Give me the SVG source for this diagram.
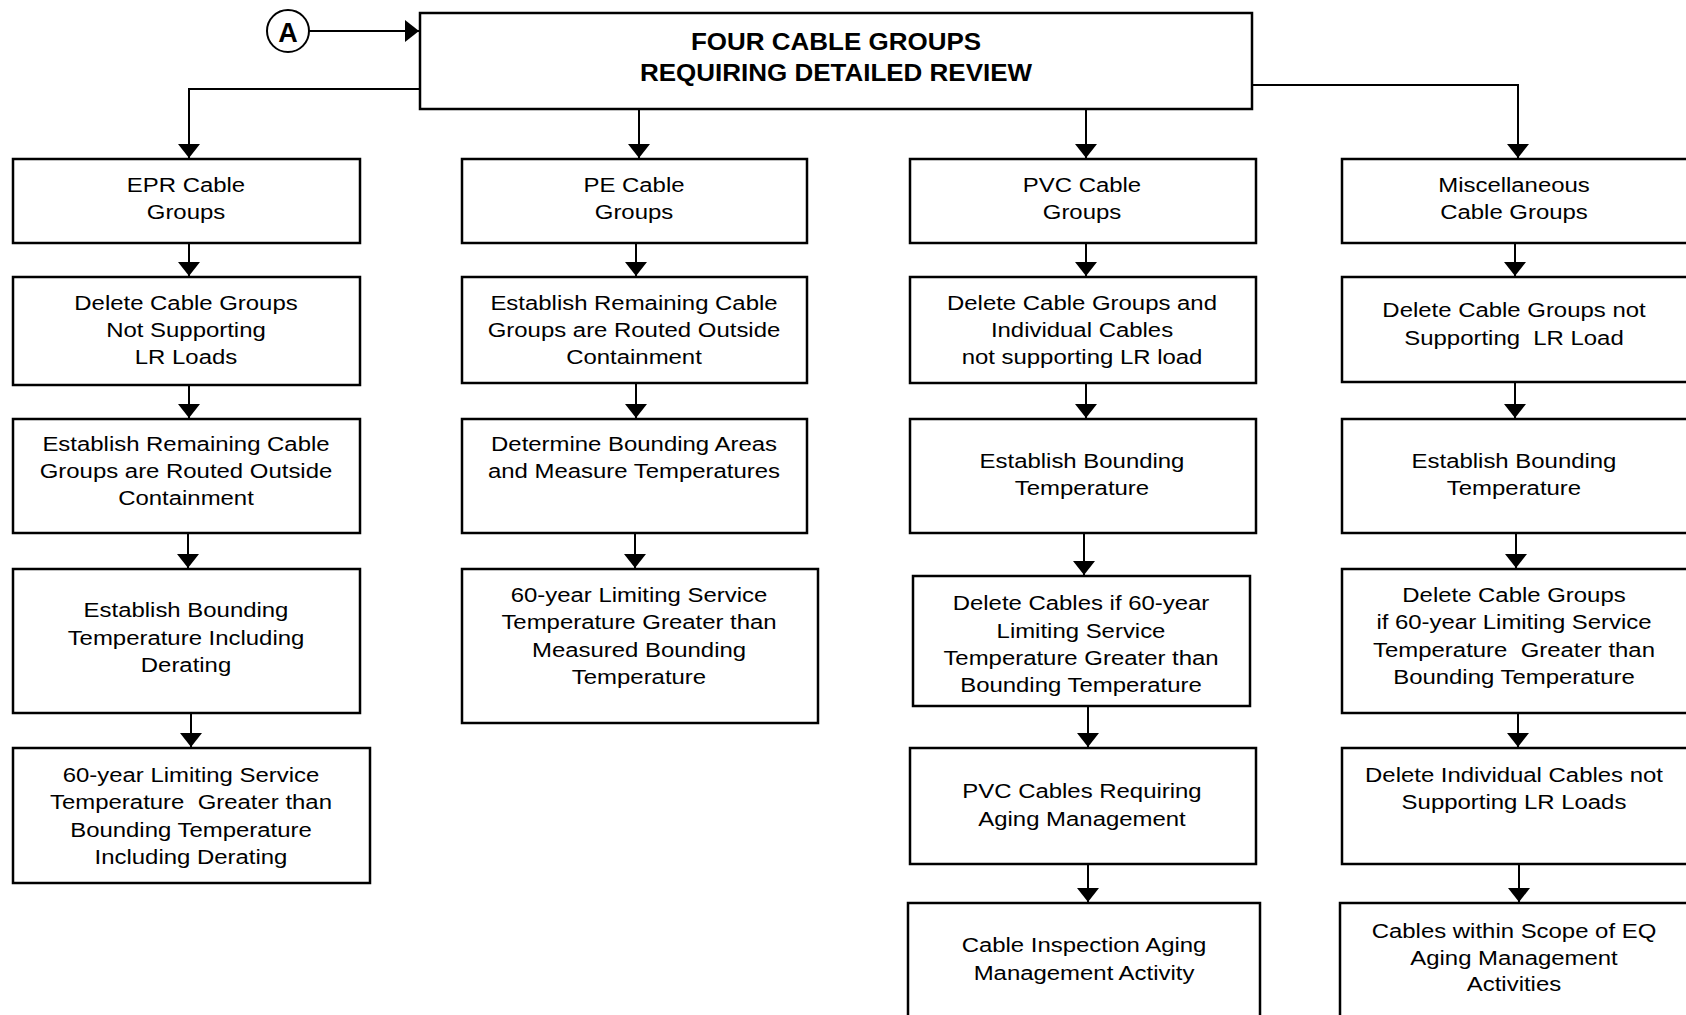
<svg xmlns="http://www.w3.org/2000/svg" width="1686" height="1015" viewBox="0 0 1686 1015">
<style>
  .box { fill: #fff; stroke: #000; stroke-width: 2.5; }
  .ln { fill: none; stroke: #000; stroke-width: 2; }
  .t { font-family: "Liberation Sans", Arial, Helvetica, sans-serif; font-size: 21px; fill: #000; text-anchor: middle; white-space: pre; }
  .tb { font-family: "Liberation Sans", Arial, Helvetica, sans-serif; font-size: 23px; font-weight: bold; fill: #000; text-anchor: middle; }
  .ta { font-family: "Liberation Sans", Arial, Helvetica, sans-serif; font-size: 27px; font-weight: bold; fill: #000; text-anchor: middle; }
</style>
<defs>
  <marker id="ah" viewBox="0 0 14 22" refX="14" refY="11" markerWidth="14" markerHeight="22" markerUnits="userSpaceOnUse" orient="auto">
    <path d="M0,0 L14,11 L0,22 Z" fill="#000"/>
  </marker>
</defs>
<rect width="1686" height="1015" fill="#fff"/>

<g id="connectors">
  <line class="ln" x1="309" y1="31" x2="419" y2="31" marker-end="url(#ah)"/>
  <polyline class="ln" points="420,89 189,89 189,158" marker-end="url(#ah)"/>
  <line class="ln" x1="639" y1="109" x2="639" y2="158" marker-end="url(#ah)"/>
  <line class="ln" x1="1086" y1="109" x2="1086" y2="158" marker-end="url(#ah)"/>
  <polyline class="ln" points="1252,85 1518,85 1518,158" marker-end="url(#ah)"/>

  <line class="ln" x1="189" y1="243" x2="189" y2="276" marker-end="url(#ah)"/>
  <line class="ln" x1="189" y1="385" x2="189" y2="418" marker-end="url(#ah)"/>
  <line class="ln" x1="188" y1="533" x2="188" y2="568" marker-end="url(#ah)"/>
  <line class="ln" x1="191" y1="713" x2="191" y2="747" marker-end="url(#ah)"/>

  <line class="ln" x1="636" y1="243" x2="636" y2="276" marker-end="url(#ah)"/>
  <line class="ln" x1="636" y1="383" x2="636" y2="418" marker-end="url(#ah)"/>
  <line class="ln" x1="635" y1="533" x2="635" y2="568" marker-end="url(#ah)"/>

  <line class="ln" x1="1086" y1="243" x2="1086" y2="276" marker-end="url(#ah)"/>
  <line class="ln" x1="1086" y1="383" x2="1086" y2="418" marker-end="url(#ah)"/>
  <line class="ln" x1="1084" y1="533" x2="1084" y2="575" marker-end="url(#ah)"/>
  <line class="ln" x1="1088" y1="706" x2="1088" y2="747" marker-end="url(#ah)"/>
  <line class="ln" x1="1088" y1="864" x2="1088" y2="902" marker-end="url(#ah)"/>

  <line class="ln" x1="1515" y1="243" x2="1515" y2="276" marker-end="url(#ah)"/>
  <line class="ln" x1="1515" y1="382" x2="1515" y2="418" marker-end="url(#ah)"/>
  <line class="ln" x1="1516" y1="533" x2="1516" y2="568" marker-end="url(#ah)"/>
  <line class="ln" x1="1518" y1="713" x2="1518" y2="747" marker-end="url(#ah)"/>
  <line class="ln" x1="1519" y1="864" x2="1519" y2="902" marker-end="url(#ah)"/>
</g>

<g id="nodeA">
  <circle cx="288" cy="31" r="21" fill="#fff" stroke="#000" stroke-width="2"/>
  <text class="ta" x="288" y="42">A</text>
</g>

<g id="top">
  <rect class="box" x="420" y="13" width="832" height="96"/>
  <text class="tb" transform="translate(836 0) scale(1.13 1)"><tspan x="0" y="50">FOUR CABLE GROUPS</tspan><tspan x="0" y="81">REQUIRING DETAILED REVIEW</tspan></text>
</g>

<g id="epr1">
  <rect class="box" x="13" y="159" width="347" height="84"/>
  <text class="t" transform="translate(186 0) scale(1.14 1)"><tspan x="0" y="192">EPR Cable</tspan><tspan x="0" y="219">Groups</tspan></text>
</g>
<g id="epr2">
  <rect class="box" x="13" y="277" width="347" height="108"/>
  <text class="t" transform="translate(186 0) scale(1.14 1)"><tspan x="0" y="310">Delete Cable Groups</tspan><tspan x="0" y="337">Not Supporting</tspan><tspan x="0" y="364">LR Loads</tspan></text>
</g>
<g id="epr3">
  <rect class="box" x="13" y="419" width="347" height="114"/>
  <text class="t" transform="translate(186 0) scale(1.14 1)"><tspan x="0" y="451">Establish Remaining Cable</tspan><tspan x="0" y="478">Groups are Routed Outside</tspan><tspan x="0" y="505">Containment</tspan></text>
</g>
<g id="epr4">
  <rect class="box" x="13" y="569" width="347" height="144"/>
  <text class="t" transform="translate(186 0) scale(1.14 1)"><tspan x="0" y="617">Establish Bounding</tspan><tspan x="0" y="645">Temperature Including</tspan><tspan x="0" y="672">Derating</tspan></text>
</g>
<g id="epr5">
  <rect class="box" x="13" y="748" width="357" height="135"/>
  <text class="t" transform="translate(191 0) scale(1.14 1)"><tspan x="0" y="782">60-year Limiting Service</tspan><tspan x="0" y="809">Temperature  Greater than</tspan><tspan x="0" y="837">Bounding Temperature</tspan><tspan x="0" y="864">Including Derating</tspan></text>
</g>

<g id="pe1">
  <rect class="box" x="462" y="159" width="345" height="84"/>
  <text class="t" transform="translate(634 0) scale(1.14 1)"><tspan x="0" y="192">PE Cable</tspan><tspan x="0" y="219">Groups</tspan></text>
</g>
<g id="pe2">
  <rect class="box" x="462" y="277" width="345" height="106"/>
  <text class="t" transform="translate(634 0) scale(1.14 1)"><tspan x="0" y="310">Establish Remaining Cable</tspan><tspan x="0" y="337">Groups are Routed Outside</tspan><tspan x="0" y="364">Containment</tspan></text>
</g>
<g id="pe3">
  <rect class="box" x="462" y="419" width="345" height="114"/>
  <text class="t" transform="translate(634 0) scale(1.14 1)"><tspan x="0" y="451">Determine Bounding Areas</tspan><tspan x="0" y="478">and Measure Temperatures</tspan></text>
</g>
<g id="pe4">
  <rect class="box" x="462" y="569" width="356" height="154"/>
  <text class="t" transform="translate(639 0) scale(1.14 1)"><tspan x="0" y="602">60-year Limiting Service</tspan><tspan x="0" y="629">Temperature Greater than</tspan><tspan x="0" y="657">Measured Bounding</tspan><tspan x="0" y="684">Temperature</tspan></text>
</g>

<g id="pvc1">
  <rect class="box" x="910" y="159" width="346" height="84"/>
  <text class="t" transform="translate(1082 0) scale(1.14 1)"><tspan x="0" y="192">PVC Cable</tspan><tspan x="0" y="219">Groups</tspan></text>
</g>
<g id="pvc2">
  <rect class="box" x="910" y="277" width="346" height="106"/>
  <text class="t" transform="translate(1082 0) scale(1.14 1)"><tspan x="0" y="310">Delete Cable Groups and</tspan><tspan x="0" y="337">Individual Cables</tspan><tspan x="0" y="364">not supporting LR load</tspan></text>
</g>
<g id="pvc3">
  <rect class="box" x="910" y="419" width="346" height="114"/>
  <text class="t" transform="translate(1082 0) scale(1.14 1)"><tspan x="0" y="468">Establish Bounding</tspan><tspan x="0" y="495">Temperature</tspan></text>
</g>
<g id="pvc4">
  <rect class="box" x="913" y="576" width="337" height="130"/>
  <text class="t" transform="translate(1081 0) scale(1.14 1)"><tspan x="0" y="610">Delete Cables if 60-year</tspan><tspan x="0" y="638">Limiting Service</tspan><tspan x="0" y="665">Temperature Greater than</tspan><tspan x="0" y="692">Bounding Temperature</tspan></text>
</g>
<g id="pvc5">
  <rect class="box" x="910" y="748" width="346" height="116"/>
  <text class="t" transform="translate(1082 0) scale(1.14 1)"><tspan x="0" y="798">PVC Cables Requiring</tspan><tspan x="0" y="826">Aging Management</tspan></text>
</g>
<g id="pvc6">
  <rect class="box" x="908" y="903" width="352" height="125"/>
  <text class="t" transform="translate(1084 0) scale(1.14 1)"><tspan x="0" y="952">Cable Inspection Aging</tspan><tspan x="0" y="980">Management Activity</tspan></text>
</g>

<g id="misc1">
  <rect class="box" x="1342" y="159" width="346" height="84"/>
  <text class="t" transform="translate(1514 0) scale(1.14 1)"><tspan x="0" y="192">Miscellaneous</tspan><tspan x="0" y="219">Cable Groups</tspan></text>
</g>
<g id="misc2">
  <rect class="box" x="1342" y="277" width="346" height="105"/>
  <text class="t" transform="translate(1514 0) scale(1.14 1)"><tspan x="0" y="317">Delete Cable Groups not</tspan><tspan x="0" y="345">Supporting  LR Load</tspan></text>
</g>
<g id="misc3">
  <rect class="box" x="1342" y="419" width="346" height="114"/>
  <text class="t" transform="translate(1514 0) scale(1.14 1)"><tspan x="0" y="468">Establish Bounding</tspan><tspan x="0" y="495">Temperature</tspan></text>
</g>
<g id="misc4">
  <rect class="box" x="1342" y="569" width="346" height="144"/>
  <text class="t" transform="translate(1514 0) scale(1.14 1)"><tspan x="0" y="602">Delete Cable Groups</tspan><tspan x="0" y="629">if 60-year Limiting Service</tspan><tspan x="0" y="657">Temperature  Greater than</tspan><tspan x="0" y="684">Bounding Temperature</tspan></text>
</g>
<g id="misc5">
  <rect class="box" x="1342" y="748" width="346" height="116"/>
  <text class="t" transform="translate(1514 0) scale(1.14 1)"><tspan x="0" y="782">Delete Individual Cables not</tspan><tspan x="0" y="809">Supporting LR Loads</tspan></text>
</g>
<g id="misc6">
  <rect class="box" x="1340" y="903" width="348" height="125"/>
  <text class="t" transform="translate(1514 0) scale(1.14 1)"><tspan x="0" y="938">Cables within Scope of EQ</tspan><tspan x="0" y="965">Aging Management</tspan><tspan x="0" y="991">Activities</tspan></text>
</g>
</svg>
